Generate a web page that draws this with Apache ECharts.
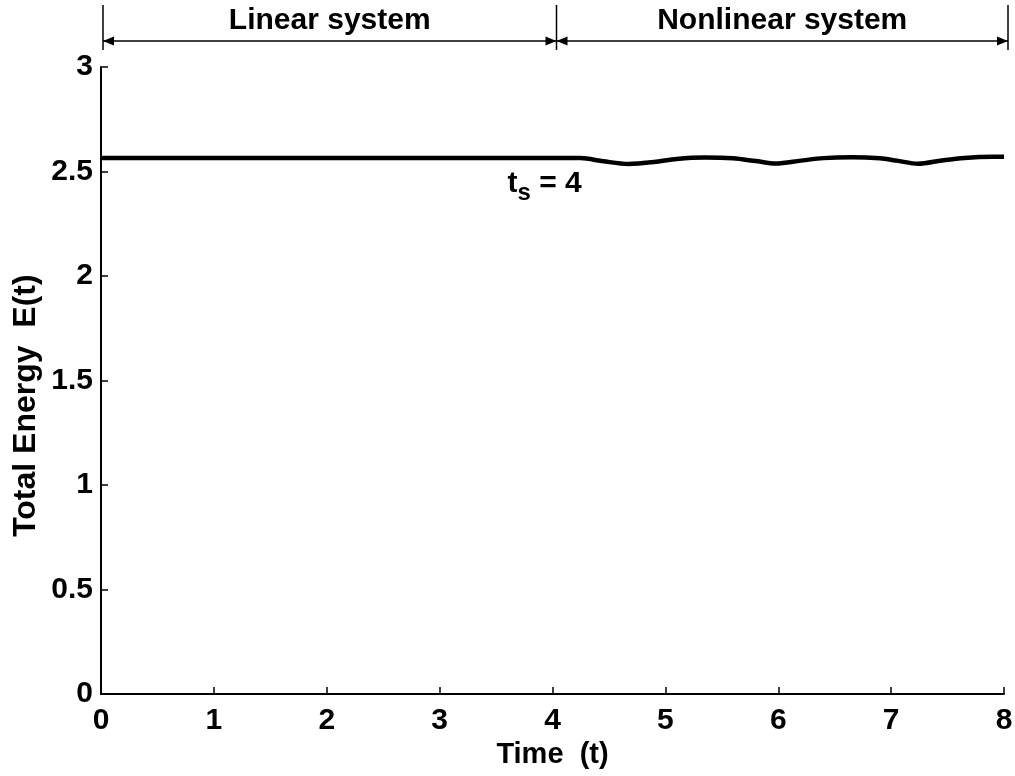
<!DOCTYPE html>
<html>
<head>
<meta charset="utf-8">
<script src="https://cdn.jsdelivr.net/npm/echarts@6/dist/echarts.min.js"></script>
<style>
  html, body { margin: 0; padding: 0; background: #fff; }
  #chart { width: 1015px; height: 776px; }
</style>
</head>
<body>
<div id="chart"></div>
<script>
// Total energy of the system over time (switch from linear to nonlinear at t = 4)
const timeValues   = [0, 1, 2, 3, 4, 4.25, 4.45, 4.67, 4.9, 5.1, 5.35, 5.6, 5.8, 5.98, 6.2, 6.4, 6.65, 6.9, 7.05, 7.24, 7.45, 7.65, 7.9, 8];
const energyValues = [2.565, 2.565, 2.565, 2.565, 2.565, 2.564, 2.549, 2.536, 2.545, 2.560, 2.567, 2.563, 2.550, 2.538, 2.552, 2.564, 2.568, 2.563, 2.552, 2.537, 2.553, 2.565, 2.570, 2.570];

// Regions shown above the plot
const regionBounds = [0, 4, 8];
const regionNames  = ['Linear system', 'Nonlinear system'];
const switchTime   = 4;
const yAxisTitle   = 'Total Energy  E(t)';

const FONT = "'Liberation Sans', Arial, Helvetica, sans-serif";
const chart = echarts.init(document.getElementById('chart'), null, { renderer: 'canvas' });

const axisText = { color: '#000', fontFamily: FONT, fontWeight: 'bold', fontSize: 30 };

chart.setOption({
  animation: false,
  backgroundColor: '#fff',
  grid: { left: 101, right: 11, top: 67, bottom: 82, containLabel: false, outerBoundsMode: 'none' },
  xAxis: {
    type: 'value', min: 0, max: 8, interval: 1,
    name: 'Time  (t)', nameLocation: 'middle', nameGap: 45,
    nameTextStyle: Object.assign({}, axisText, { fontSize: 29 }),
    axisLine: { lineStyle: { color: '#000', width: 2 } },
    axisTick: { inside: true, length: 7, lineStyle: { color: '#000', width: 1.5 } },
    axisLabel: Object.assign({ margin: 12 }, axisText),
    splitLine: { show: false }
  },
  yAxis: {
    type: 'value', min: 0, max: 3, interval: 0.5,
    axisLine: { show: true, lineStyle: { color: '#000', width: 2 } },
    axisTick: { show: true, inside: true, length: 7, lineStyle: { color: '#000', width: 1.5 } },
    axisLabel: Object.assign({ margin: 8 }, axisText),
    splitLine: { show: false }
  },
  series: [{
    type: 'line',
    data: timeValues.map((t, i) => [t, energyValues[i]]),
    smooth: 0.3,
    showSymbol: false,
    lineStyle: { color: '#000', width: 4.5 },
    z: 3
  }]
});

// Region brackets, axis title and switching-time label, placed through the axes
const px = (t, e) => chart.convertToPixel({ gridIndex: 0 }, [t, e]);
const arrowY = 41, lineTop = 5, lineBottom = 50;
const g = [];

const boundX = t => px(t, 0)[0] + 2 + (t > 0 ? 2 : 0);

regionBounds.forEach(t => {
  const x = boundX(t);
  g.push({ type: 'line', shape: { x1: x, y1: lineTop, x2: x, y2: lineBottom }, style: { stroke: '#000', lineWidth: 1.5 } });
});

function arrowHead(xTip, dir) {
  // dir = -1 points left, +1 points right
  const L = 11, W = 4.5;
  return { type: 'polygon', shape: { points: [[xTip, arrowY], [xTip - dir * L, arrowY - W], [xTip - dir * L, arrowY + W]] }, style: { fill: '#000' } };
}

for (let i = 0; i < regionNames.length; i++) {
  const xa = boundX(regionBounds[i]);
  const xb = boundX(regionBounds[i + 1]);
  g.push({ type: 'line', shape: { x1: xa, y1: arrowY, x2: xb, y2: arrowY }, style: { stroke: '#000', lineWidth: 1.5 } });
  g.push(arrowHead(xa, -1));
  g.push(arrowHead(xb, 1));
  g.push({
    type: 'text',
    style: { text: regionNames[i], x: (xa + xb) / 2, y: 21, align: 'center', verticalAlign: 'middle',
             font: 'bold 30px ' + FONT, fill: '#000' }
  });
}

// Y axis title, rotated
const yMid = px(0, 1.38)[1];
g.push({
  type: 'text', x: 26, y: yMid, rotation: Math.PI / 2,
  style: { text: yAxisTitle, align: 'center', verticalAlign: 'middle', font: 'bold 32px ' + FONT, fill: '#000' }
});

const lp = px(switchTime - 0.07, 2.44);
g.push({
  type: 'text',
  style: {
    text: '{t|t}{s|s}{t| = ' + switchTime + '}',
    x: lp[0], y: lp[1], align: 'center', verticalAlign: 'middle',
    rich: {
      t: { font: 'bold 30px ' + FONT, fill: '#000', verticalAlign: 'middle' },
      s: { font: 'bold 24px ' + FONT, fill: '#000', padding: [18, 0, 0, 0] }
    }
  }
});

chart.setOption({ graphic: g });
</script>
</body>
</html>
